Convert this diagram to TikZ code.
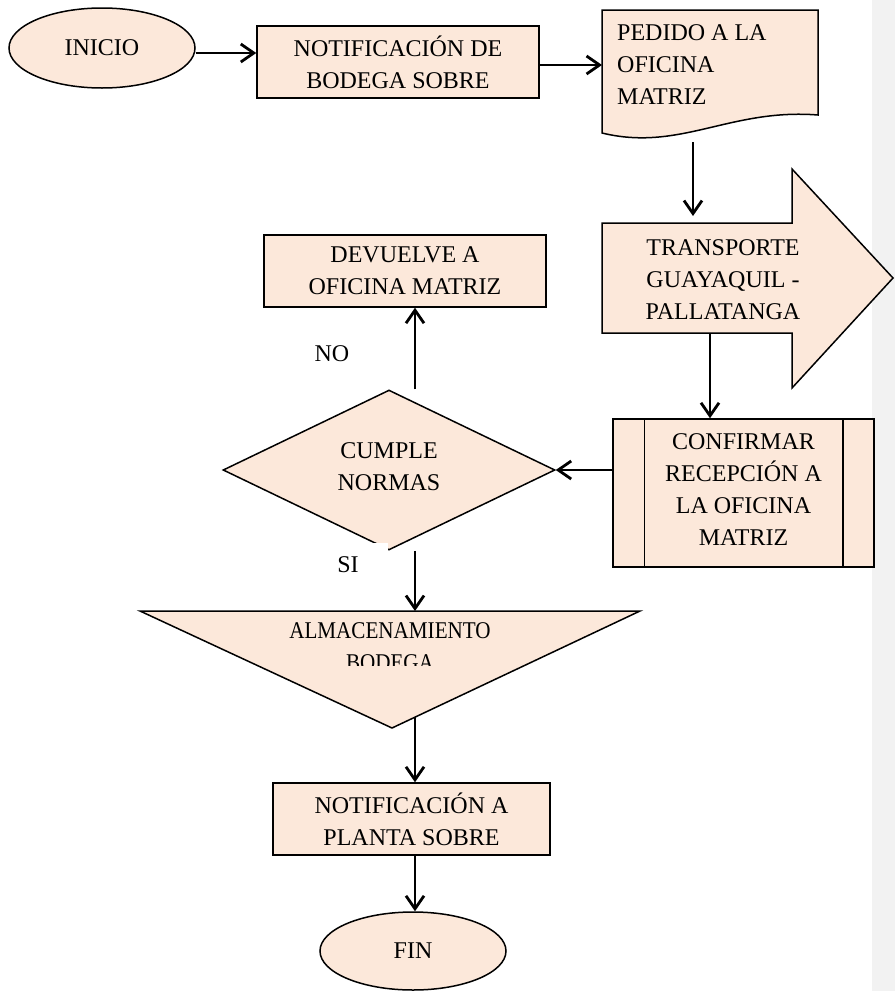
\documentclass[tikz,border=0pt]{standalone}
\usepackage{fontspec}
\setmainfont{Liberation Serif}
\usetikzlibrary{shapes.geometric,arrows.meta}
\definecolor{peach}{HTML}{FCE8DA}
\definecolor{marginstrip}{HTML}{F2F2F2}
\begin{document}
\begin{tikzpicture}[x=1pt,y=-1pt,
  every node/.style={font=\fontsize{24}{32}\selectfont},
  outline/.style={draw=black,line width=1.5pt,fill=peach},
  proc/.style={outline,rectangle,align=center,inner sep=0pt},
  term/.style={outline,ellipse,inner sep=0pt},
  conn/.style={draw=black,line width=2.8pt,
    -{Straight Barb[length=13pt,width=18pt,line width=2.8pt]}},
  lbl/.style={inner sep=0pt}
]
\useasboundingbox (0,0) rectangle (895,991);
% grey page margin on the right
\fill[marginstrip] (872,0) rectangle (895,991);

% start and first process
\node[term,minimum width=186pt,minimum height=80pt] (ini) at (102,48) {INICIO};
\node[proc,minimum width=282pt,minimum height=72pt] (b1) at (398,62)
  {NOTIFICACIÓN DE\\BODEGA SOBRE};

% document shape
\coordinate (docTL) at (602,10);
\draw[outline] (docTL) -- (818,10) -- (818,115)
  .. controls (730,108) and (680,152) .. (602,133) -- cycle;
\node[lbl,anchor=west,align=left] (doc) at (617,65) {PEDIDO A LA\\OFICINA\\MATRIZ};

% block arrow for transport
\draw[outline] (602,223) -- (792,223) -- (792,169) -- (893,278)
  -- (792,388) -- (792,333) -- (602,333) -- cycle;
\node[lbl,align=center] (tr) at (723,280) {TRANSPORTE\\GUAYAQUIL -\\PALLATANGA};

% predefined process
\node[proc,minimum width=261pt,minimum height=148pt] (cf) at (743.5,493) {};
\draw[line width=1.5pt] ([xshift=32pt]cf.north west) -- ([xshift=32pt]cf.south west);
\draw[line width=1.5pt] ([xshift=-32pt]cf.north east) -- ([xshift=-32pt]cf.south east);
\node[lbl,align=center] (cft) at (743.5,490) {CONFIRMAR\\RECEPCIÓN A\\LA OFICINA\\MATRIZ};

% decision
\node[outline,diamond,minimum width=332pt,minimum height=160pt,inner sep=0pt] (dec) at (389,470) {};
\node[lbl,align=center] (dect) at (389,467) {CUMPLE\\NORMAS};
\fill[white] (373,543) rectangle (388,562);

\node[proc,minimum width=282pt,minimum height=72pt] (dv) at (405,271)
  {DEVUELVE A\\OFICINA MATRIZ};
\node[lbl] (no) at (332,354) {NO};
\node[lbl] (si) at (348,565) {SI};

% storage triangle
\coordinate (alTL) at (140,611);
\coordinate (alTR) at (640,611);
\coordinate (alB) at (392,728);
\draw[outline] (alTL) -- (alTR) -- (alB) -- cycle;
\begin{scope}
  \clip (140,600) rectangle (640,665);
  \node[lbl,anchor=base] (al1) at (390,638.5) {\scalebox{0.88}[1]{ALMACENAMIENTO}};
  \node[lbl,anchor=base] (al2) at (390,670.5) {\scalebox{0.88}[1]{BODEGA}};
\end{scope}

\node[proc,minimum width=277pt,minimum height=72pt] (nt) at (411.5,819)
  {NOTIFICACIÓN A\\PLANTA SOBRE};
\node[term,minimum width=186pt,minimum height=78pt] (fin) at (413,951) {FIN};

% connectors
\coordinate (docout) at (693,142);
\coordinate (trin) at (693,216);
\coordinate (trout) at (710,333);
\coordinate (alout) at (415,717);
\draw[conn] ([yshift=-5pt]ini.east) -- ([yshift=-5pt]ini.east -| b1.west);
\draw[conn] ([yshift=-3pt]b1.east) -- ([yshift=-3pt]b1.east -| docTL);
\draw[conn] (docout) -- (trin);
\draw[conn] (trout) -- (trout |- cf.north);
\draw[conn] ([yshift=23pt]cf.west) -- (dec.east);
\draw[conn] ([xshift=26pt]dec.north) -- ([xshift=10pt]dv.south);
\draw[conn] ([xshift=26pt]dec.south) -- ([xshift=26pt]dec.south |- alTL);
\draw[conn] (alout) -- (alout |- nt.north);
\draw[conn] (alout |- nt.south) -- (alout |- fin.north);
\end{tikzpicture}
\end{document}
